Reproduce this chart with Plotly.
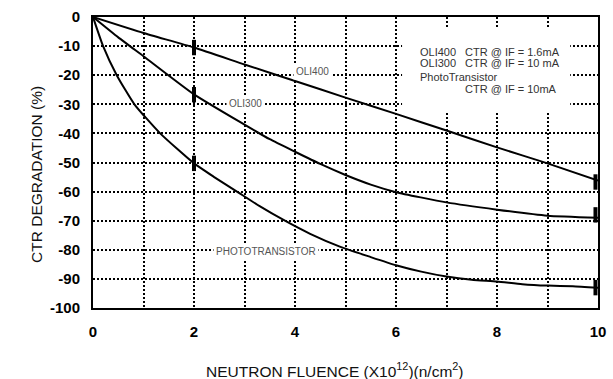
import plotly.graph_objects as go

# ---- data ----
oli400_x = [0, 1, 2, 3, 4, 5, 6, 7, 8, 9, 10]
oli400_y = [0, -5.5, -10.5, -16.3, -22.0, -27.7, -33.3, -39.0, -44.8, -50.3, -56.2]

oli300_x = [0, 0.5, 1, 2, 3, 3.5, 4, 4.5, 5, 5.5, 6, 7, 8, 9, 10]
oli300_y = [0, -7.0, -13.5, -26.6, -37.0, -42.0, -46.3, -50.5, -54.3, -57.6, -60.2, -63.7, -66.2, -68.3, -69.0]

photo_x = [0, 0.2, 0.47, 0.82, 1.33, 2, 2.4, 2.85, 3.3, 3.8, 4.3, 4.9, 5.5, 6, 6.5, 7, 7.5, 8, 8.5, 9, 9.5, 10]
photo_y = [0, -10, -20, -30, -40, -50.3, -55, -60, -65, -70, -74.5, -79, -82.5, -85.3, -87.5, -89.2, -90.3, -90.9, -91.8, -92.3, -92.5, -93.0]

marker_x = [2, 9.95]
oli400_mark = [-10.5, -56.7]
oli300_mark = [-26.7, -68.0]
photo_mark = [-50.3, -93.0]

x_tickvals = [0, 2, 4, 6, 8, 10]
x_ticktext = ["0", "2", "4", "6", "8", "10"]
x_minor_grid = [1, 3, 5, 7, 9]
y_tickvals = [0, -10, -20, -30, -40, -50, -60, -70, -80, -90, -100]
y_ticktext = ["0", "-10", "-20", "-30", "-40", "-50", "-60", "-70", "-80", "-90", "-100"]

curve_labels = ["OLI400", "OLI300", "PHOTOTRANSISTOR"]
label_pos_x = [4.34, 3.02, 3.42]
label_pos_y = [-18.6, -29.6, -80.5]

legend_left = ["OLI400", "OLI300", "PhotoTransistor", ""]
legend_right = ["CTR @ IF = 1.6mA", "CTR @ IF = 10 mA", "", "CTR @ IF = 10mA"]
legend_rows_y = [-12.0, -15.9, -20.5, -24.7]

x_title = "NEUTRON FLUENCE (X10<sup>12</sup>)(n/cm<sup>2</sup>)"
y_title = "CTR DEGRADATION (%)"

FONT = "Liberation Sans, Arial, Helvetica, sans-serif"

fig = go.Figure()
for xs, ys in [(oli400_x, oli400_y), (oli300_x, oli300_y), (photo_x, photo_y)]:
    fig.add_trace(go.Scatter(x=xs, y=ys, mode="lines",
                             line=dict(color="black", width=2, shape="spline", smoothing=0.5),
                             showlegend=False, hoverinfo="skip"))
for ys in [oli400_mark, oli300_mark, photo_mark]:
    fig.add_trace(go.Scatter(x=marker_x, y=ys, mode="markers",
                             marker=dict(symbol="line-ns", size=11, color="black",
                                         line=dict(color="black", width=4)),
                             showlegend=False, hoverinfo="skip"))

# white backing for the legend text block (covers grid, below traces)
fig.add_shape(type="rect", xref="x", yref="y", x0=6.12, x1=9.45, y0=-32.5, y1=-3.5,
              fillcolor="white", line=dict(width=0), layer="between")

for t, x, y in zip(curve_labels, label_pos_x, label_pos_y):
    fig.add_annotation(x=x, y=y, xref="x", yref="y", text=t, showarrow=False,
                       font=dict(family=FONT, size=10, color="#555"),
                       bgcolor="white", borderpad=2)

for tl, tr, y in zip(legend_left, legend_right, legend_rows_y):
    if tl:
        fig.add_annotation(x=6.43, y=y, xref="x", yref="y", text=tl, showarrow=False,
                           xanchor="left", font=dict(family=FONT, size=11, color="#333"))
    if tr:
        fig.add_annotation(x=7.32, y=y, xref="x", yref="y", text=tr, showarrow=False,
                           xanchor="left", font=dict(family=FONT, size=11, color="#333"))

# axis titles placed as in the reference
fig.add_annotation(x=0.479, y=-0.213, xref="paper", yref="paper", text=x_title,
                   showarrow=False, xanchor="center", yanchor="middle",
                   font=dict(family=FONT, size=15.5, color="#111"))
fig.add_annotation(x=-0.111, y=0.4605, xref="paper", yref="paper", text=y_title,
                   showarrow=False, xanchor="center", yanchor="middle", textangle=-90,
                   font=dict(family=FONT, size=15.5, color="#111"))

fig.update_layout(
    width=613, height=379,
    margin=dict(l=93, r=15, t=17, b=71, autoexpand=False),
    paper_bgcolor="white", plot_bgcolor="white",
    font=dict(family=FONT, color="black"),
    showlegend=False,
)
grid = dict(showgrid=True, gridcolor="black", gridwidth=1.5, griddash="2px,2px")
fig.update_xaxes(
    range=[0, 10], tickvals=x_tickvals, ticktext=x_ticktext,
    showline=True, linecolor="black", linewidth=2, mirror=True,
    zeroline=False, ticks="", ticklabelstandoff=9, automargin=False,
    tickfont=dict(family=FONT, size=15, color="black", weight="bold"),
    minor=dict(tickvals=x_minor_grid, ticks="", **grid),
    **grid,
)
fig.update_yaxes(
    range=[-100, 0], tickvals=y_tickvals, ticktext=y_ticktext,
    showline=True, linecolor="black", linewidth=2, mirror=True,
    zeroline=False, ticks="", ticklabelstandoff=8, automargin=False,
    tickfont=dict(family=FONT, size=15, color="black", weight="bold"),
    **grid,
)

# remove the default page margin so the 613x379 figure fills the window exactly
fig.write_html("out.html",
               config={"displayModeBar": False},
               post_script="document.body.style.margin='0';document.body.style.overflow='hidden';")
